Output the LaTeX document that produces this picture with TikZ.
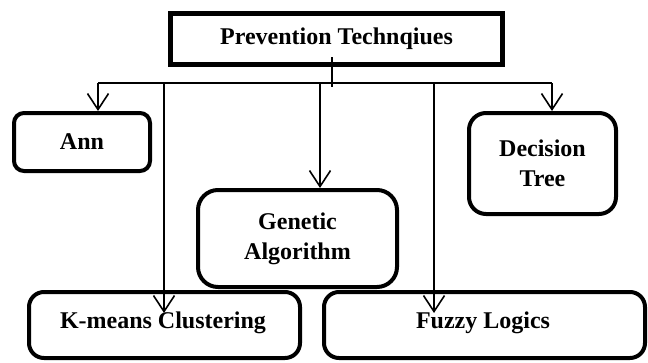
\documentclass[tikz,border=0pt]{standalone}
\usepackage{fontspec}
\setmainfont{Liberation Serif}
\usetikzlibrary{arrows.meta}
\begin{document}
\begin{tikzpicture}[x=1pt,y=-1pt,
  lbl/.style={font=\bfseries\fontsize{24}{30}\selectfont,align=center},
  headbox/.style={draw,line width=5pt,lbl,inner sep=0pt},
  itembox/.style={draw,line width=4pt,lbl,inner sep=0pt},
  bare/.style={draw,line width=4pt,inner sep=0pt},
  conn/.style={line width=1.6pt},
  arr/.style={conn,-{Straight Barb[length=16pt,width=21pt,line width=1.6pt]}}]
\useasboundingbox (0,0) rectangle (648,362);

% root
\node[headbox,minimum width=332pt,minimum height=51pt] (top) at (336.5,39) {Prevention Technqiues};

% leaves
\node[itembox,rounded corners=10pt,minimum width=136pt,minimum height=58pt] (ann) at (82,142) {Ann};
\node[itembox,rounded corners=17pt,minimum width=147pt,minimum height=101pt] (dec) at (542.5,163.5) {Decision\\Tree};
\node[itembox,rounded corners=20pt,minimum width=199pt,minimum height=97pt] (gen) at (297.5,238.5) {Genetic\\Algorithm};
\node[bare,rounded corners=15pt,minimum width=271pt,minimum height=66pt] (kmb) at (164.5,325) {};
\node[bare,rounded corners=15pt,minimum width=321pt,minimum height=66pt] (fzb) at (484.5,325) {};
\node[lbl,anchor=base] (kmt) at (163,328) {K-means Clustering};
\node[lbl,anchor=base] (fzt) at (483,328) {Fuzzy Logics};

% bus
\coordinate (stemtop) at (332,57);
\coordinate (stembot) at (332,87);
\coordinate (busL) at (98,83);
\coordinate (busR) at (552,83);
\coordinate (kmx) at (164,83);
\coordinate (genx) at (320,83);
\coordinate (fzx) at (434,83);
\coordinate (kmend) at (164,313);
\coordinate (fzend) at (434,313);

\draw[conn] (stemtop) -- (stembot);
\draw[conn] (busL) -- (busR);
\draw[arr] (busL) -- (busL |- ann.north);
\draw[arr] (busR) -- (busR |- dec.north);
\draw[arr] (genx) -- (genx |- gen.north);
\draw[arr] (kmx) -- (kmend);
\draw[arr] (fzx) -- (fzend);
\end{tikzpicture}
\end{document}
